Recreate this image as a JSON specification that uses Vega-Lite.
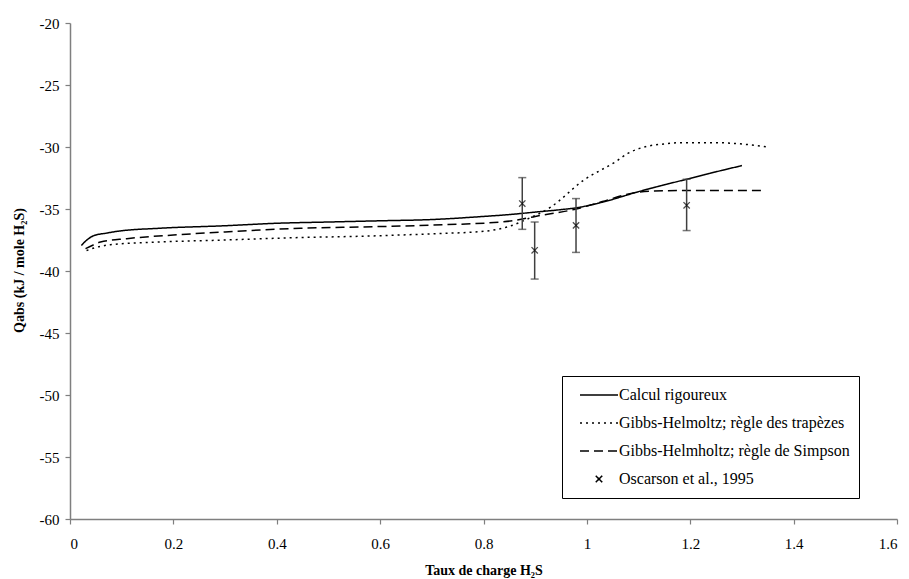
{
  "$schema": "https://vega.github.io/schema/vega-lite/v6.json",
  "width": 827,
  "height": 496,
  "autosize": {"type": "none"},
  "padding": {"left": 70, "top": 23, "right": 12, "bottom": 60},
  "background": "white",
  "datasets": {
    "curves": [
      {"series": "Calcul rigoureux", "x": 0.022, "y": -37.95},
      {"series": "Calcul rigoureux", "x": 0.03, "y": -37.6},
      {"series": "Calcul rigoureux", "x": 0.046, "y": -37.15},
      {"series": "Calcul rigoureux", "x": 0.07, "y": -36.95},
      {"series": "Calcul rigoureux", "x": 0.091, "y": -36.8},
      {"series": "Calcul rigoureux", "x": 0.175, "y": -36.55},
      {"series": "Calcul rigoureux", "x": 0.3, "y": -36.35},
      {"series": "Calcul rigoureux", "x": 0.4, "y": -36.15},
      {"series": "Calcul rigoureux", "x": 0.5, "y": -36.05},
      {"series": "Calcul rigoureux", "x": 0.6, "y": -35.95},
      {"series": "Calcul rigoureux", "x": 0.7, "y": -35.85},
      {"series": "Calcul rigoureux", "x": 0.8, "y": -35.6},
      {"series": "Calcul rigoureux", "x": 0.85, "y": -35.45},
      {"series": "Calcul rigoureux", "x": 0.9, "y": -35.25},
      {"series": "Calcul rigoureux", "x": 0.95, "y": -35.05},
      {"series": "Calcul rigoureux", "x": 0.98, "y": -34.9},
      {"series": "Calcul rigoureux", "x": 1.03, "y": -34.45},
      {"series": "Calcul rigoureux", "x": 1.1, "y": -33.6},
      {"series": "Calcul rigoureux", "x": 1.193, "y": -32.6},
      {"series": "Calcul rigoureux", "x": 1.25, "y": -32.0},
      {"series": "Calcul rigoureux", "x": 1.3, "y": -31.5},
      {"series": "Gibbs-Helmoltz; règle des trapèzes", "x": 0.032, "y": -38.35},
      {"series": "Gibbs-Helmoltz; règle des trapèzes", "x": 0.05, "y": -38.1},
      {"series": "Gibbs-Helmoltz; règle des trapèzes", "x": 0.078, "y": -37.88},
      {"series": "Gibbs-Helmoltz; règle des trapèzes", "x": 0.15, "y": -37.7},
      {"series": "Gibbs-Helmoltz; règle des trapèzes", "x": 0.3, "y": -37.5},
      {"series": "Gibbs-Helmoltz; règle des trapèzes", "x": 0.446, "y": -37.3},
      {"series": "Gibbs-Helmoltz; règle des trapèzes", "x": 0.56, "y": -37.2},
      {"series": "Gibbs-Helmoltz; règle des trapèzes", "x": 0.7, "y": -37.0},
      {"series": "Gibbs-Helmoltz; règle des trapèzes", "x": 0.8, "y": -36.8},
      {"series": "Gibbs-Helmoltz; règle des trapèzes", "x": 0.85, "y": -36.4},
      {"series": "Gibbs-Helmoltz; règle des trapèzes", "x": 0.88, "y": -35.9},
      {"series": "Gibbs-Helmoltz; règle des trapèzes", "x": 0.93, "y": -34.85},
      {"series": "Gibbs-Helmoltz; règle des trapèzes", "x": 0.993, "y": -32.7},
      {"series": "Gibbs-Helmoltz; règle des trapèzes", "x": 1.055, "y": -31.2},
      {"series": "Gibbs-Helmoltz; règle des trapèzes", "x": 1.08, "y": -30.5},
      {"series": "Gibbs-Helmoltz; règle des trapèzes", "x": 1.116, "y": -29.95},
      {"series": "Gibbs-Helmoltz; règle des trapèzes", "x": 1.15, "y": -29.75},
      {"series": "Gibbs-Helmoltz; règle des trapèzes", "x": 1.18, "y": -29.65},
      {"series": "Gibbs-Helmoltz; règle des trapèzes", "x": 1.245, "y": -29.65},
      {"series": "Gibbs-Helmoltz; règle des trapèzes", "x": 1.31, "y": -29.8},
      {"series": "Gibbs-Helmoltz; règle des trapèzes", "x": 1.348, "y": -30.0},
      {"series": "Gibbs-Helmholtz; règle de Simpson", "x": 0.03, "y": -38.2},
      {"series": "Gibbs-Helmholtz; règle de Simpson", "x": 0.045, "y": -37.9},
      {"series": "Gibbs-Helmholtz; règle de Simpson", "x": 0.059, "y": -37.66},
      {"series": "Gibbs-Helmholtz; règle de Simpson", "x": 0.11, "y": -37.39},
      {"series": "Gibbs-Helmholtz; règle de Simpson", "x": 0.2, "y": -37.1},
      {"series": "Gibbs-Helmholtz; règle de Simpson", "x": 0.3, "y": -36.85},
      {"series": "Gibbs-Helmholtz; règle de Simpson", "x": 0.446, "y": -36.55},
      {"series": "Gibbs-Helmholtz; règle de Simpson", "x": 0.56, "y": -36.45},
      {"series": "Gibbs-Helmholtz; règle de Simpson", "x": 0.7, "y": -36.3},
      {"series": "Gibbs-Helmholtz; règle de Simpson", "x": 0.832, "y": -36.05},
      {"series": "Gibbs-Helmholtz; règle de Simpson", "x": 0.857, "y": -35.95},
      {"series": "Gibbs-Helmholtz; règle de Simpson", "x": 0.9, "y": -35.6},
      {"series": "Gibbs-Helmholtz; règle de Simpson", "x": 0.979, "y": -35.0},
      {"series": "Gibbs-Helmholtz; règle de Simpson", "x": 1.03, "y": -34.4},
      {"series": "Gibbs-Helmholtz; règle de Simpson", "x": 1.09, "y": -33.7},
      {"series": "Gibbs-Helmholtz; règle de Simpson", "x": 1.13, "y": -33.55},
      {"series": "Gibbs-Helmholtz; règle de Simpson", "x": 1.2, "y": -33.5},
      {"series": "Gibbs-Helmholtz; règle de Simpson", "x": 1.345, "y": -33.5}
    ],
    "exp": [
      {"series": "Oscarson et al., 1995", "x": 0.875, "y": -34.56, "lo": -36.64, "hi": -32.47},
      {"series": "Oscarson et al., 1995", "x": 0.899, "y": -38.33, "lo": -40.65, "hi": -36.05},
      {"series": "Oscarson et al., 1995", "x": 0.979, "y": -36.32, "lo": -38.5, "hi": -34.16},
      {"series": "Oscarson et al., 1995", "x": 1.193, "y": -34.7, "lo": -36.74, "hi": -32.6}
    ]
  },
  "layer": [
    {
      "data": {"name": "curves"},
      "mark": {"type": "line", "color": "black", "strokeWidth": 1.5, "interpolate": "monotone"},
      "encoding": {
        "x": {"field": "x", "type": "quantitative", "title": "Taux de charge H₂S",
              "scale": {"domain": [0, 1.6], "nice": false, "zero": false},
              "axis": {
                "values": [0, 0.2, 0.4, 0.6, 0.8, 1, 1.2, 1.4, 1.6],
                "labelExpr": "toString(datum.value)",
                "labelFont": "Liberation Serif", "labelFontSize": 15, "labelColor": "black",
                "labelPadding": 12, "titlePadding": 12,
                "titleFont": "Liberation Serif", "titleFontSize": 14, "titleFontWeight": "bold", "titleColor": "black",
                "domainColor": "#7f7f7f", "domainWidth": 1.5, "tickColor": "#7f7f7f", "tickWidth": 1.2, "tickSize": 5, "grid": false
              }},
        "y": {"field": "y", "type": "quantitative", "title": "Qabs (kJ / mole H₂S)",
              "scale": {"domain": [-60, -20], "nice": false, "zero": false},
              "axis": {
                "values": [-60, -55, -50, -45, -40, -35, -30, -25, -20],
                "labelExpr": "toString(datum.value)",
                "labelFont": "Liberation Serif", "labelFontSize": 15, "labelColor": "black",
                "labelPadding": 6, "titleX": -44, "titleY": 247,
                "titleFont": "Liberation Serif", "titleFontSize": 14, "titleFontWeight": "bold", "titleColor": "black",
                "domainColor": "#7f7f7f", "domainWidth": 1.5, "tickColor": "#7f7f7f", "tickWidth": 1.2, "tickSize": 5, "grid": false
              }},
        "strokeDash": {
          "field": "series", "type": "nominal",
          "scale": {
            "domain": ["Calcul rigoureux", "Gibbs-Helmoltz; règle des trapèzes", "Gibbs-Helmholtz; règle de Simpson", "Oscarson et al., 1995"],
            "range": [[1, 0], [2, 4], [9, 5], [1, 0]]
          },
          "legend": {
            "title": null,
            "orient": "none",
            "legendX": 492,
            "legendY": 353,
            "columns": 1,
            "padding": 9,
            "strokeColor": "black",
            "fillColor": "white",
            "labelFont": "Liberation Serif",
            "labelFontSize": 16,
            "labelColor": "black",
            "labelLimit": 400,
            "symbolType": "stroke",
            "symbolSize": 1444,
            "symbolStrokeWidth": 1.5,
            "symbolStrokeColor": "black",
            "clipHeight": 20,
            "rowPadding": 8,
            "symbolOffset": 8,
            "labelOffset": 0,
            "encode": {
              "symbols": {
                "update": {
                  "shape": {"signal": "datum.value === 'Oscarson et al., 1995' ? 'M-0.17,-0.17L0.17,0.17M-0.17,0.17L0.17,-0.17' : 'stroke'"},
                  "stroke": {"value": "black"}
                }
              }
            }
          }
        }
      }
    },
    {
      "data": {"name": "exp"},
      "mark": {"type": "errorbar", "ticks": {"size": 8, "color": "#404040", "thickness": 1.5}, "rule": {"color": "#404040", "strokeWidth": 1.5}},
      "encoding": {
        "x": {"field": "x", "type": "quantitative", "title": "Taux de charge H₂S"},
        "y": {"field": "lo", "type": "quantitative", "title": "Qabs (kJ / mole H₂S)"},
        "y2": {"field": "hi"}
      }
    },
    {
      "data": {"name": "exp"},
      "mark": {"type": "point", "shape": "M-1,-1L1,1M-1,1L1,-1", "size": 40, "stroke": "black", "strokeWidth": 1.3, "filled": false},
      "encoding": {
        "x": {"field": "x", "type": "quantitative", "title": "Taux de charge H₂S"},
        "y": {"field": "y", "type": "quantitative", "title": "Qabs (kJ / mole H₂S)"}
      }
    }
  ],
  "resolve": {"scale": {"x": "shared", "y": "shared"}},
  "config": {
    "view": {"stroke": null}
  }
}
